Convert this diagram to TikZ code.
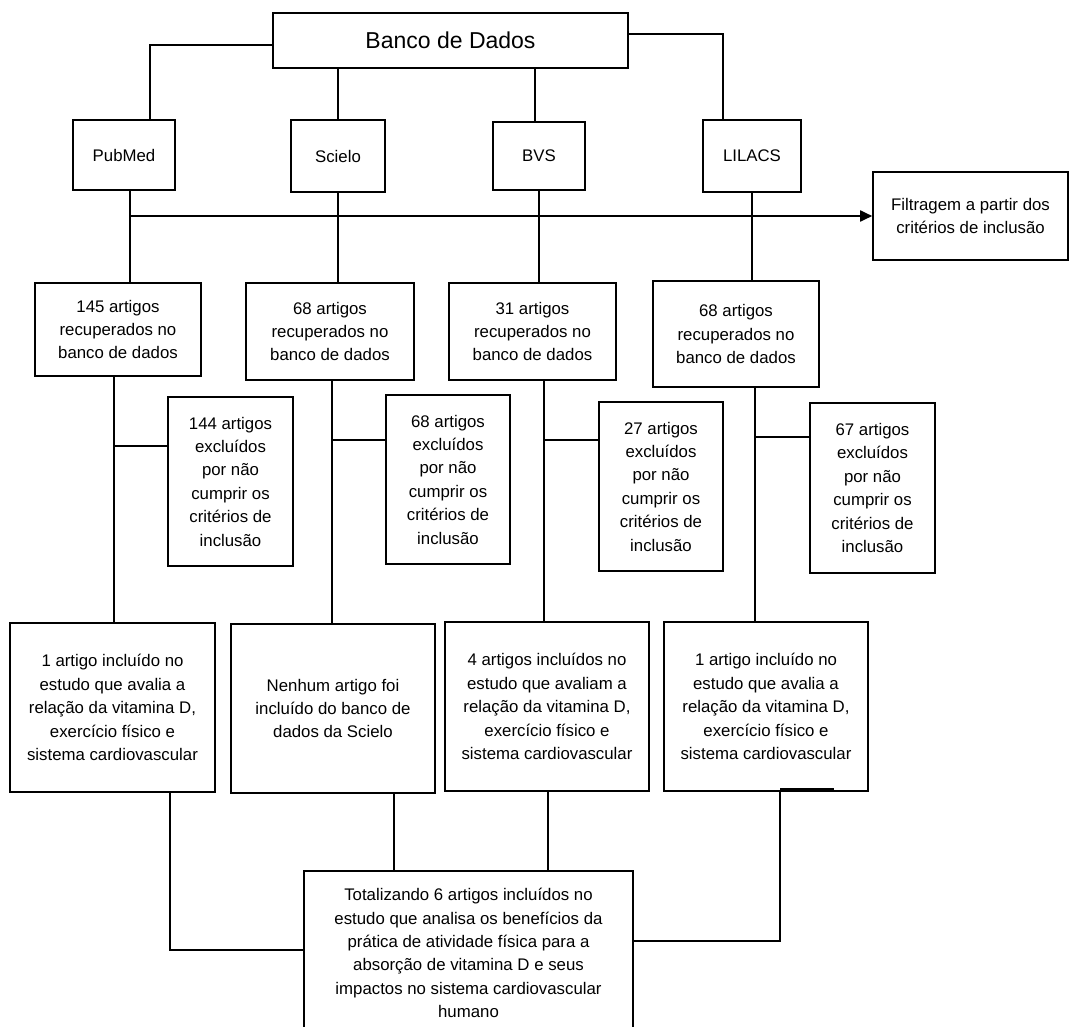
\documentclass[tikz,border=0pt]{standalone}
\usepackage{fontspec}
\setmainfont{Liberation Sans}
\usetikzlibrary{arrows.meta,calc}
\begin{document}
\begin{tikzpicture}[x=1pt,y=-1pt,
  box/.style={draw, line width=1.6pt, inner sep=0pt, align=center,
    font=\fontsize{16.8}{23.4}\selectfont},
  conn/.style={line width=1.2pt},
  arr/.style={line width=1.8pt, -{Triangle[length=12pt,width=11pt]}}]
\useasboundingbox[fill=white] (0,0) rectangle (1070,1027);
% top
\node[box, minimum width=355pt, minimum height=55pt, font=\fontsize{23}{28}\selectfont] (banco) at (450.5,40.5) {Banco de Dados};
% sources
\node[box, minimum width=102pt, minimum height=70pt] (pub) at (124,155) {PubMed};
\node[box, minimum width=94pt, minimum height=72pt] (sci) at (338,156) {Scielo};
\node[box, minimum width=92pt, minimum height=68pt] (bvs) at (539,156) {BVS};
\node[box, minimum width=98pt, minimum height=72pt] (lil) at (752,156) {LILACS};
\node[box, minimum width=195pt, minimum height=88pt] (filt) at (970.5,216) {Filtragem a partir dos\\critérios de inclusão};
% retrieved
\node[box, minimum width=166pt, minimum height=93pt] (p2) at (118,329.5) {145 artigos\\recuperados no\\banco de dados};
\node[box, minimum width=168pt, minimum height=97pt] (s2) at (330,331.5) {68 artigos\\recuperados no\\banco de dados};
\node[box, minimum width=167pt, minimum height=97pt] (b2) at (532.5,331.5) {31 artigos\\recuperados no\\banco de dados};
\node[box, minimum width=166pt, minimum height=106pt] (l2) at (736,334) {68 artigos\\recuperados no\\banco de dados};
% excluded
\node[box, minimum width=125pt, minimum height=169pt] (pe) at (230.5,481.5) {144 artigos\\excluídos\\por não\\cumprir os\\critérios de\\inclusão};
\node[box, minimum width=124pt, minimum height=169pt] (se) at (448,479.5) {68 artigos\\excluídos\\por não\\cumprir os\\critérios de\\inclusão};
\node[box, minimum width=124pt, minimum height=169pt] (be) at (661,486.5) {27 artigos\\excluídos\\por não\\cumprir os\\critérios de\\inclusão};
\node[box, minimum width=125pt, minimum height=170pt] (le) at (872.5,488) {67 artigos\\excluídos\\por não\\cumprir os\\critérios de\\inclusão};
% included
\node[box, minimum width=205pt, minimum height=169pt] (p4) at (112.5,707.5) {1 artigo incluído no\\estudo que avalia a\\relação da vitamina D,\\exercício físico e\\sistema cardiovascular};
\node[box, minimum width=204pt, minimum height=169pt] (s4) at (333,708.5) {Nenhum artigo foi\\incluído do banco de\\dados da Scielo};
\node[box, minimum width=204pt, minimum height=169pt] (b4) at (547,706.5) {4 artigos incluídos no\\estudo que avaliam a\\relação da vitamina D,\\exercício físico e\\sistema cardiovascular};
\node[box, minimum width=204pt, minimum height=169pt] (l4) at (766,706.5) {1 artigo incluído no\\estudo que avalia a\\relação da vitamina D,\\exercício físico e\\sistema cardiovascular};
% final (bottom edge lies below the picture)
\node[box, draw=none, minimum width=327pt, minimum height=162pt] (fin) at (468.5,953) {Totalizando 6 artigos incluídos no\\estudo que analisa os benefícios da\\prática de atividade física para a\\absorção de vitamina D e seus\\impactos no sistema cardiovascular\\humano};
\draw[line width=1.6pt] (fin.west |- 0,1027) -- (fin.north west) -- (fin.north east) -- (fin.east |- 0,1027);
% connectors top
\draw[conn] (banco.west |- 0,45) -| ([xshift=26pt]pub.north);
\draw[conn] (sci.north |- banco.south) -- (sci.north);
\draw[conn] ([xshift=-4pt]bvs.north |- banco.south) -- ([xshift=-4pt]bvs.north);
\draw[conn] (banco.east |- 0,34) -| ([xshift=-29pt]lil.north);
% sources to retrieved
\draw[conn] ([xshift=6pt]pub.south) -- ([xshift=6pt]pub.south |- p2.north);
\draw[conn] (sci.south) -- (sci.south |- s2.north);
\draw[conn] (bvs.south) -- (bvs.south |- b2.north);
\draw[conn] (lil.south) -- (lil.south |- l2.north);
\draw[arr] ([xshift=6pt]pub.south |- filt.west) -- (filt.west);
% retrieved to included, with branches to excluded
\draw[conn] ([xshift=-4pt]p2.south) -- ([xshift=-4pt]p2.south |- p4.north);
\draw[conn] ([xshift=2pt]s2.south) -- ([xshift=2pt]s2.south |- s4.north);
\draw[conn] ([xshift=11.5pt]b2.south) -- ([xshift=11.5pt]b2.south |- b4.north);
\draw[conn] ([xshift=19pt]l2.south) -- ([xshift=19pt]l2.south |- l4.north);
\draw[line width=1.8pt] ([xshift=-4pt]p2.south |- 0,446) -- (pe.west |- 0,446);
\draw[line width=1.8pt] ([xshift=2pt]s2.south |- 0,440) -- (se.west |- 0,440);
\draw[line width=1.8pt] ([xshift=11.5pt]b2.south |- 0,440) -- (be.west |- 0,440);
\draw[line width=1.8pt] ([xshift=19pt]l2.south |- 0,437) -- (le.west |- 0,437);
% included to final
\draw[conn] ([xshift=57.5pt]p4.south) |- (fin.west |- 0,950);
\draw[conn] ([xshift=61pt]s4.south) -- ([xshift=61pt]s4.south |- fin.north);
\draw[conn] ([xshift=1pt]b4.south) -- ([xshift=1pt]b4.south |- fin.north);
\draw[conn] ([xshift=14pt]l4.south) |- (fin.east |- 0,941);
\draw[line width=2.6pt] ([xshift=14pt]l4.south |- 0,789) -- ([xshift=68pt]l4.south |- 0,789);
\end{tikzpicture}
\end{document}
